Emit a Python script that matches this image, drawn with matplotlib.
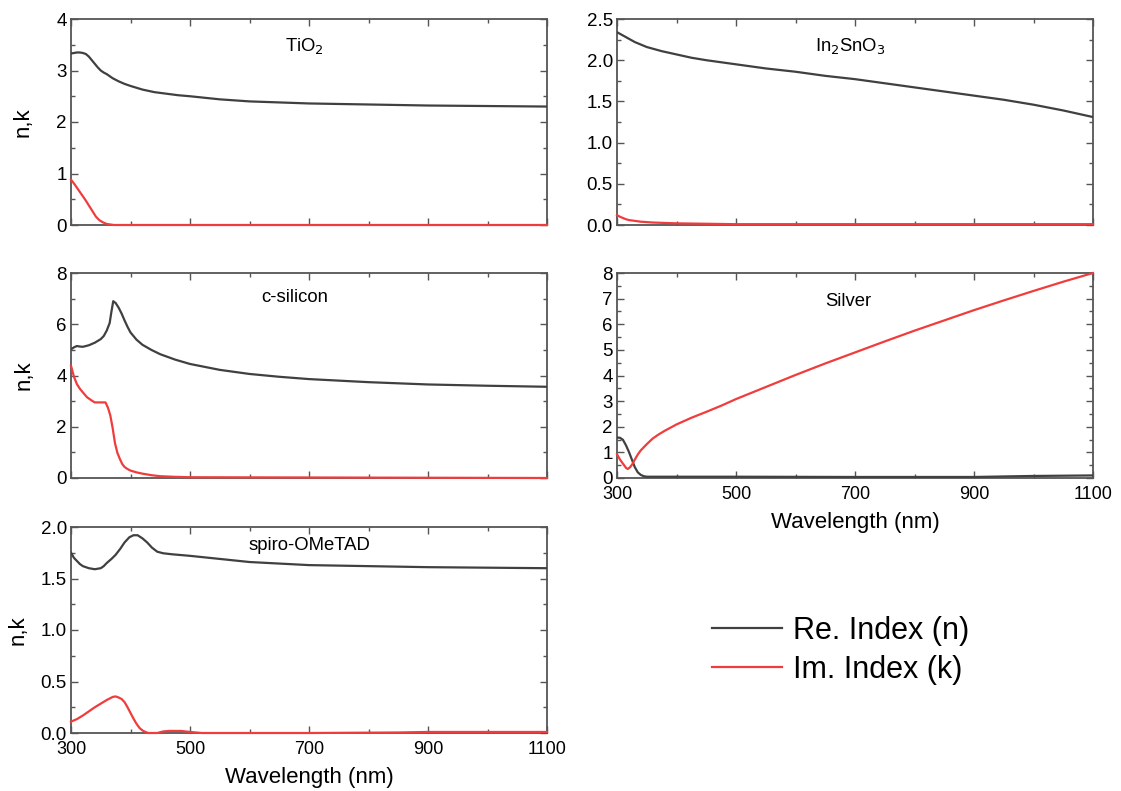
import matplotlib
matplotlib.use("Agg")
import matplotlib.pyplot as plt
from matplotlib.ticker import MultipleLocator, FixedLocator
from matplotlib.lines import Line2D

plt.rcParams["font.family"] = ["Liberation Sans", "DejaVu Sans"]

# Optical constants (wavelength in nm)
tio2_wl_n = [300, 305, 310, 315, 320, 325, 330, 335, 340, 345, 350, 355, 360, 365, 370, 380, 390, 400,
             420, 440, 460, 480, 500, 550, 600, 650, 700, 800, 900, 1000, 1100]
tio2_n = [3.33, 3.34, 3.35, 3.35, 3.34, 3.32, 3.27, 3.20, 3.13, 3.06, 3.00, 2.96, 2.93, 2.89, 2.85, 2.79, 2.74, 2.70,
          2.63, 2.58, 2.55, 2.52, 2.50, 2.44, 2.40, 2.38, 2.36, 2.34, 2.32, 2.31, 2.30]
tio2_wl_k = [300, 306, 312, 318, 324, 330, 336, 342, 348, 354, 360, 366, 372, 500, 1100]
tio2_k = [0.88, 0.79, 0.69, 0.59, 0.49, 0.38, 0.27, 0.16, 0.09, 0.05, 0.02, 0.01, 0.0, 0.0, 0.0]

ito_wl_n = [300, 310, 320, 330, 340, 350, 360, 375, 400, 425, 450, 475, 500, 550, 600, 650, 700, 750,
            800, 850, 900, 950, 1000, 1050, 1100]
ito_n = [2.34, 2.30, 2.26, 2.22, 2.19, 2.16, 2.14, 2.11, 2.07, 2.03, 2.00, 1.975, 1.95, 1.90, 1.86, 1.81, 1.77, 1.72,
         1.67, 1.62, 1.57, 1.52, 1.46, 1.39, 1.31]
ito_wl_k = [300, 305, 310, 315, 320, 330, 340, 360, 400, 500, 700, 900, 1100]
ito_k = [0.12, 0.10, 0.085, 0.07, 0.06, 0.05, 0.04, 0.03, 0.02, 0.01, 0.01, 0.01, 0.01]

si_wl_n = [300, 305, 310, 315, 320, 330, 340, 350, 355, 360, 365, 368, 371, 375, 380, 385, 390, 395, 400,
           410, 420, 435, 450, 475, 500, 550, 600, 650, 700, 800, 900, 1000, 1100]
si_n = [5.02, 5.10, 5.15, 5.13, 5.12, 5.18, 5.28, 5.42, 5.54, 5.75, 6.05, 6.50, 6.90, 6.83, 6.65, 6.42, 6.15, 5.90, 5.68,
        5.40, 5.20, 5.00, 4.83, 4.62, 4.45, 4.22, 4.06, 3.95, 3.86, 3.74, 3.65, 3.60, 3.56]
si_wl_k = [300, 305, 310, 315, 320, 327, 335, 340, 358, 362, 366, 370, 374, 378, 382, 386, 390, 395, 400,
           410, 420, 435, 450, 475, 500, 700, 900, 1100]
si_k = [4.38, 3.95, 3.66, 3.48, 3.34, 3.15, 3.02, 2.95, 2.95, 2.75, 2.45, 1.95, 1.35, 0.98, 0.75, 0.55, 0.43, 0.35, 0.29,
        0.22, 0.17, 0.11, 0.07, 0.045, 0.03, 0.02, 0.01, 0.0]

ag_wl_n = [300, 305, 310, 315, 320, 325, 330, 335, 340, 345, 350, 400, 500, 700, 900, 1000, 1100]
ag_n = [1.58, 1.57, 1.49, 1.28, 1.02, 0.72, 0.42, 0.22, 0.12, 0.07, 0.05, 0.05, 0.05, 0.04, 0.04, 0.08, 0.10]
ag_wl_k = [300, 305, 310, 315, 318, 322, 326, 330, 335, 340, 350, 360, 370, 380, 400, 425, 450, 475, 500,
           550, 600, 650, 700, 750, 800, 850, 900, 950, 1000, 1050, 1100]
ag_k = [0.93, 0.72, 0.56, 0.40, 0.35, 0.42, 0.55, 0.72, 0.92, 1.08, 1.32, 1.54, 1.70, 1.84, 2.09, 2.35, 2.58, 2.82, 3.08,
        3.55, 4.02, 4.47, 4.90, 5.33, 5.75, 6.15, 6.55, 6.93, 7.30, 7.66, 8.00]

spiro_wl_n = [300, 305, 310, 315, 320, 330, 340, 350, 355, 360, 368, 375, 383, 390, 398, 405, 412, 420, 428, 436,
              445, 455, 470, 500, 550, 600, 650, 700, 800, 900, 1000, 1100]
spiro_n = [1.75, 1.70, 1.67, 1.64, 1.62, 1.60, 1.59, 1.60, 1.62, 1.65, 1.69, 1.73, 1.79, 1.85, 1.90, 1.92, 1.92, 1.89,
           1.85, 1.80, 1.76, 1.745, 1.735, 1.72, 1.69, 1.66, 1.645, 1.63, 1.62, 1.61, 1.605, 1.60]
spiro_wl_k = [300, 310, 320, 330, 340, 350, 360, 370, 375, 380, 385, 390, 395, 400, 405, 410, 415, 420, 425, 430,
              445, 455, 465, 485, 500, 520, 600, 700, 850, 900, 1100]
spiro_k = [0.11, 0.135, 0.17, 0.21, 0.25, 0.285, 0.32, 0.35, 0.355, 0.345, 0.33, 0.30, 0.25, 0.195, 0.14, 0.09, 0.05,
           0.025, 0.01, 0.0, 0.0, 0.015, 0.02, 0.02, 0.01, 0.0, 0.0, 0.0, 0.005, 0.01, 0.01]

x_major = [300, 500, 700, 900, 1100]

N_COLOR = "#404040"
K_COLOR = "#f03c3c"
SPINE = "#555555"

W, H = 1121, 791
fig = plt.figure(figsize=(W / 100, H / 100), dpi=100)


def make_axes(x0, y0, x1, y1):
    return fig.add_axes([x0 / W, 1 - y1 / H, (x1 - x0) / W, (y1 - y0) / H])


def style(ax, ymax, ymajor, yminor, xlabels, title, tx, ty, ylabel_x=None):
    ax.set_xlim(300, 1100)
    ax.set_ylim(0, ymax)
    ax.xaxis.set_major_locator(FixedLocator(x_major))
    ax.xaxis.set_minor_locator(MultipleLocator(100))
    ax.yaxis.set_major_locator(MultipleLocator(ymajor))
    ax.yaxis.set_minor_locator(MultipleLocator(yminor))
    ax.tick_params(which="both", direction="in", top=True, right=True, color=SPINE)
    ax.tick_params(axis="y", labelsize=13.5, pad=3)
    ax.tick_params(axis="x", labelsize=13, pad=5.5)
    ax.tick_params(which="major", length=5, width=1)
    ax.tick_params(which="minor", length=3, width=1)
    for s in ax.spines.values():
        s.set_color(SPINE)
        s.set_linewidth(1.3)
    if xlabels:
        ax.set_xlabel("Wavelength (nm)", fontsize=16, labelpad=7)
    else:
        ax.tick_params(labelbottom=False)
    if ylabel_x is not None:
        ax.set_ylabel("n,k", fontsize=16)
        ax.yaxis.set_label_coords(ylabel_x, 0.5)
    ax.text(tx, ty, title, transform=ax.transAxes, ha="center", va="center", fontsize=13.3)


def draw(ax, wn, n, wk, k):
    ax.plot(wn, n, color=N_COLOR, lw=1.6, zorder=3)
    ax.plot(wk, k, color=K_COLOR, lw=1.6, zorder=3, clip_on=False)


ax1 = make_axes(71, 19, 547, 225)
draw(ax1, tio2_wl_n, tio2_n, tio2_wl_k, tio2_k)
style(ax1, 4, 1, 0.5, False, "TiO$_2$", 0.49, 0.87, -0.078)

ax2 = make_axes(617, 19, 1093, 225)
draw(ax2, ito_wl_n, ito_n, ito_wl_k, ito_k)
style(ax2, 2.5, 0.5, 0.25, False, "In$_2$SnO$_3$", 0.49, 0.87)

ax3 = make_axes(71, 273, 547, 478)
draw(ax3, si_wl_n, si_n, si_wl_k, si_k)
style(ax3, 8, 2, 1, False, "c-silicon", 0.47, 0.88, -0.076)

ax4 = make_axes(617, 273, 1093, 478)
draw(ax4, ag_wl_n, ag_n, ag_wl_k, ag_k)
style(ax4, 8, 1, 0.5, True, "Silver", 0.485, 0.86)

ax5 = make_axes(71, 527, 547, 733)
draw(ax5, spiro_wl_n, spiro_n, spiro_wl_k, spiro_k)
style(ax5, 2.0, 0.5, 0.25, True, "spiro-OMeTAD", 0.5, 0.91, -0.09)

handles = [Line2D([], [], color=N_COLOR, lw=1.6), Line2D([], [], color=K_COLOR, lw=1.6)]
fig.legend(handles, ["Re. Index (n)", "Im. Index (k)"], loc="upper left",
           bbox_to_anchor=(712 / W, 1 - 616 / H), frameon=False, fontsize=22,
           handlelength=2.3, handletextpad=0.35, labelspacing=0.3,
           borderpad=0, borderaxespad=0)

fig.savefig("out.png", dpi=100)
